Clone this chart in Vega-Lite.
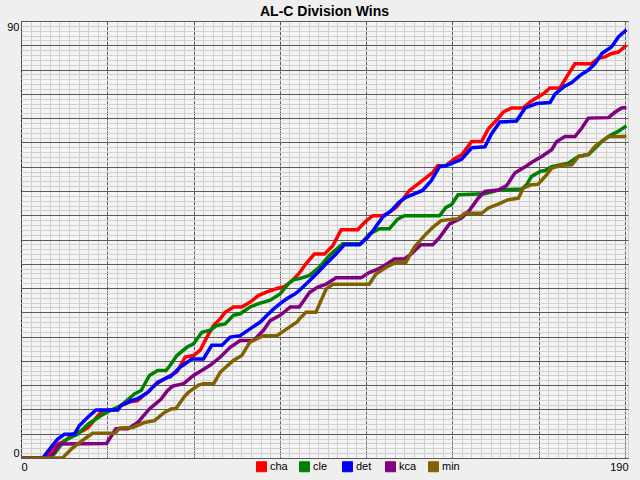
{
  "$schema": "https://vega.github.io/schema/vega-lite/v6.json",
  "autosize": {"type": "none"},
  "width": 607,
  "height": 437,
  "padding": {"left": 21, "top": 21, "right": 12, "bottom": 22},
  "background": "#EFEFEF",
  "title": {"text": "AL-C Division Wins", "fontSize": 14, "fontWeight": "bold", "font": "Liberation Sans", "color": "#000000", "anchor": "middle", "baseline": "alphabetic", "offset": -10},
  "config": {
    "view": {"fill": "#F3F3F3", "stroke": "#000000", "strokeWidth": 1},
    "axis": {"labelFont": "Liberation Sans", "labelFontSize": 11, "labelColor": "#000000", "ticks": false, "domain": false, "labelOverlap": false}
  },
  "data": {"values": [
    {"team":"cha","day":0,"wins":0},{"team":"cha","day":7.5,"wins":0},{"team":"cha","day":10,"wins":2},{"team":"cha","day":12,"wins":3},{"team":"cha","day":14,"wins":3.6},{"team":"cha","day":16,"wins":4.9},{"team":"cha","day":19.3,"wins":5.6},{"team":"cha","day":21,"wins":6.3},{"team":"cha","day":24.5,"wins":9},{"team":"cha","day":25.6,"wins":9.7},{"team":"cha","day":30,"wins":10},{"team":"cha","day":31.3,"wins":10.8},{"team":"cha","day":34.4,"wins":11.6},{"team":"cha","day":36.5,"wins":11.8},{"team":"cha","day":40.2,"wins":13.9},{"team":"cha","day":41.8,"wins":15},{"team":"cha","day":45,"wins":16.3},{"team":"cha","day":46.7,"wins":17},{"team":"cha","day":48.8,"wins":17.7},{"team":"cha","day":51.4,"wins":20.8},{"team":"cha","day":54,"wins":21.1},{"team":"cha","day":56.1,"wins":22.2},{"team":"cha","day":58.2,"wins":24.9},{"team":"cha","day":60.3,"wins":27.3},{"team":"cha","day":62.4,"wins":28.7},{"team":"cha","day":63.9,"wins":30},{"team":"cha","day":66.5,"wins":31.1},{"team":"cha","day":69.1,"wins":31.1},{"team":"cha","day":71.7,"wins":32.1},{"team":"cha","day":74.4,"wins":33.5},{"team":"cha","day":77,"wins":34.2},{"team":"cha","day":80.1,"wins":34.9},{"team":"cha","day":82.2,"wins":35.2},{"team":"cha","day":84.3,"wins":36.2},{"team":"cha","day":86.9,"wins":37.9},{"team":"cha","day":89.2,"wins":40},{"team":"cha","day":91.8,"wins":42},{"team":"cha","day":95,"wins":42},{"team":"cha","day":97.6,"wins":43.7},{"team":"cha","day":100.2,"wins":47},{"team":"cha","day":105.4,"wins":47},{"team":"cha","day":107.5,"wins":48.5},{"team":"cha","day":110.1,"wins":49.9},{"team":"cha","day":113.2,"wins":49.9},{"team":"cha","day":115.3,"wins":50.6},{"team":"cha","day":117.4,"wins":51.6},{"team":"cha","day":119.5,"wins":53.3},{"team":"cha","day":121.6,"wins":55.1},{"team":"cha","day":124.2,"wins":56.4},{"team":"cha","day":126.3,"wins":57.5},{"team":"cha","day":128.9,"wins":58.8},{"team":"cha","day":130.4,"wins":60.2},{"team":"cha","day":133,"wins":60.2},{"team":"cha","day":135.8,"wins":61.7},{"team":"cha","day":137.9,"wins":62.4},{"team":"cha","day":141.1,"wins":65.2},{"team":"cha","day":144.2,"wins":65.2},{"team":"cha","day":146.3,"wins":67.8},{"team":"cha","day":148.9,"wins":69.6},{"team":"cha","day":151,"wins":71.3},{"team":"cha","day":153.6,"wins":72.1},{"team":"cha","day":157.2,"wins":72.1},{"team":"cha","day":159.3,"wins":73.3},{"team":"cha","day":161.4,"wins":74.2},{"team":"cha","day":163.5,"wins":75},{"team":"cha","day":165.6,"wins":76.2},{"team":"cha","day":168.7,"wins":76.2},{"team":"cha","day":170.8,"wins":78.5},{"team":"cha","day":173.4,"wins":81.2},{"team":"cha","day":178.6,"wins":81.2},{"team":"cha","day":180.7,"wins":82.3},{"team":"cha","day":182.8,"wins":82.6},{"team":"cha","day":184.9,"wins":83.3},{"team":"cha","day":187,"wins":83.6},{"team":"cha","day":189.5,"wins":85},

    {"team":"cle","day":0,"wins":0},{"team":"cle","day":8.9,"wins":0},{"team":"cle","day":10.4,"wins":0.8},{"team":"cle","day":13.6,"wins":3.6},{"team":"cle","day":17.7,"wins":4.9},{"team":"cle","day":20.9,"wins":6.9},{"team":"cle","day":25,"wins":8.7},{"team":"cle","day":27.7,"wins":9.7},{"team":"cle","day":31.3,"wins":10.8},{"team":"cle","day":35.5,"wins":13.2},{"team":"cle","day":37.6,"wins":13.9},{"team":"cle","day":40.2,"wins":17},{"team":"cle","day":42.8,"wins":18},{"team":"cle","day":45.4,"wins":18},{"team":"cle","day":46.7,"wins":19.1},{"team":"cle","day":48.8,"wins":21.1},{"team":"cle","day":51.9,"wins":22.8},{"team":"cle","day":54,"wins":23.5},{"team":"cle","day":56.6,"wins":25.9},{"team":"cle","day":59.2,"wins":26.3},{"team":"cle","day":61.3,"wins":27.3},{"team":"cle","day":63.9,"wins":27.6},{"team":"cle","day":66.5,"wins":29.4},{"team":"cle","day":68.6,"wins":29.7},{"team":"cle","day":71.7,"wins":31.1},{"team":"cle","day":74.4,"wins":31.8},{"team":"cle","day":78,"wins":32.5},{"team":"cle","day":81.1,"wins":33.8},{"team":"cle","day":83.7,"wins":35.9},{"team":"cle","day":85.3,"wins":36.7},{"team":"cle","day":87.4,"wins":37},{"team":"cle","day":90.3,"wins":37.6},{"team":"cle","day":93.4,"wins":39.3},{"team":"cle","day":96.5,"wins":41.7},{"team":"cle","day":100.7,"wins":44.1},{"team":"cle","day":106.4,"wins":44.1},{"team":"cle","day":109,"wins":46.1},{"team":"cle","day":112.2,"wins":47.2},{"team":"cle","day":115.3,"wins":47.2},{"team":"cle","day":117.9,"wins":49.2},{"team":"cle","day":120,"wins":49.9},{"team":"cle","day":131,"wins":49.9},{"team":"cle","day":133,"wins":51.6},{"team":"cle","day":134.8,"wins":52.2},{"team":"cle","day":136.8,"wins":54.2},{"team":"cle","day":145.2,"wins":54.4},{"team":"cle","day":149.4,"wins":55.2},{"team":"cle","day":156.7,"wins":55.4},{"team":"cle","day":158.3,"wins":56.3},{"team":"cle","day":159.8,"wins":58},{"team":"cle","day":162.5,"wins":59},{"team":"cle","day":164,"wins":59.2},{"team":"cle","day":166.1,"wins":60},{"team":"cle","day":171.3,"wins":60.7},{"team":"cle","day":174.5,"wins":62.1},{"team":"cle","day":177.6,"wins":62.5},{"team":"cle","day":179.7,"wins":63.8},{"team":"cle","day":181.8,"wins":65.2},{"team":"cle","day":184.9,"wins":66.6},{"team":"cle","day":187,"wins":67.3},{"team":"cle","day":189.5,"wins":68.4},

    {"team":"det","day":0,"wins":0},{"team":"det","day":6.8,"wins":0},{"team":"det","day":9.4,"wins":2.2},{"team":"det","day":11.5,"wins":3.9},{"team":"det","day":13.6,"wins":4.9},{"team":"det","day":16.7,"wins":4.9},{"team":"det","day":18.3,"wins":6.7},{"team":"det","day":20.9,"wins":8.4},{"team":"det","day":23.5,"wins":9.9},{"team":"det","day":30.3,"wins":9.9},{"team":"det","day":31.3,"wins":10.8},{"team":"det","day":34.4,"wins":11.8},{"team":"det","day":36.5,"wins":12.2},{"team":"det","day":39.7,"wins":13.5},{"team":"det","day":42.8,"wins":15.6},{"team":"det","day":45.9,"wins":16.6},{"team":"det","day":46.7,"wins":16.7},{"team":"det","day":49.8,"wins":18.7},{"team":"det","day":53.5,"wins":20.4},{"team":"det","day":57.1,"wins":20.4},{"team":"det","day":59.7,"wins":23.2},{"team":"det","day":62.9,"wins":23.2},{"team":"det","day":65.5,"wins":24.9},{"team":"det","day":68.6,"wins":25.2},{"team":"det","day":71.7,"wins":26.6},{"team":"det","day":74.9,"wins":28},{"team":"det","day":77,"wins":29.4},{"team":"det","day":79.1,"wins":30.7},{"team":"det","day":81.1,"wins":31.8},{"team":"det","day":83.2,"wins":32.8},{"team":"det","day":85.8,"wins":33.8},{"team":"det","day":87.1,"wins":34.5},{"team":"det","day":90.3,"wins":36.5},{"team":"det","day":92.9,"wins":38.2},{"team":"det","day":95.5,"wins":40},{"team":"det","day":98.6,"wins":42},{"team":"det","day":101.2,"wins":43.9},{"team":"det","day":105.9,"wins":43.9},{"team":"det","day":108.5,"wins":45.4},{"team":"det","day":110.6,"wins":47.2},{"team":"det","day":113.2,"wins":49.6},{"team":"det","day":115.8,"wins":50.9},{"team":"det","day":118.4,"wins":52.7},{"team":"det","day":120.5,"wins":53.7},{"team":"det","day":123.1,"wins":54.4},{"team":"det","day":125.7,"wins":55.1},{"team":"det","day":128.4,"wins":57.1},{"team":"det","day":131,"wins":60},{"team":"det","day":133,"wins":60.2},{"team":"det","day":137.9,"wins":61.5},{"team":"det","day":141.1,"wins":63.9},{"team":"det","day":145.2,"wins":64.1},{"team":"det","day":147.3,"wins":66.8},{"team":"det","day":149.9,"wins":69.2},{"team":"det","day":155.1,"wins":69.4},{"team":"det","day":157.8,"wins":72.1},{"team":"det","day":161.4,"wins":73},{"team":"det","day":165.6,"wins":73.2},{"team":"det","day":167.2,"wins":75},{"team":"det","day":169.8,"wins":76.4},{"team":"det","day":172.4,"wins":77.3},{"team":"det","day":175,"wins":78.8},{"team":"det","day":177.6,"wins":79.9},{"team":"det","day":179.7,"wins":81.2},{"team":"det","day":181.8,"wins":83.3},{"team":"det","day":184.9,"wins":84.7},{"team":"det","day":187,"wins":86.7},{"team":"det","day":189.5,"wins":88.2},

    {"team":"kca","day":0,"wins":0},{"team":"kca","day":8.5,"wins":0},{"team":"kca","day":10.4,"wins":1.2},{"team":"kca","day":12,"wins":2.9},{"team":"kca","day":26.8,"wins":3},{"team":"kca","day":29.7,"wins":6},{"team":"kca","day":33.4,"wins":6},{"team":"kca","day":36.5,"wins":7.3},{"team":"kca","day":40.2,"wins":10.1},{"team":"kca","day":43.8,"wins":12.1},{"team":"kca","day":45.9,"wins":13.9},{"team":"kca","day":47.5,"wins":14.8},{"team":"kca","day":50.9,"wins":15.3},{"team":"kca","day":54,"wins":17},{"team":"kca","day":59.2,"wins":19.1},{"team":"kca","day":62.4,"wins":20.8},{"team":"kca","day":65.5,"wins":22.8},{"team":"kca","day":68.6,"wins":24.2},{"team":"kca","day":72.8,"wins":24.2},{"team":"kca","day":75.9,"wins":26.3},{"team":"kca","day":78,"wins":28.3},{"team":"kca","day":81.1,"wins":29.4},{"team":"kca","day":84.3,"wins":31.1},{"team":"kca","day":87.1,"wins":31.1},{"team":"kca","day":90.3,"wins":34.1},{"team":"kca","day":92.9,"wins":35.2},{"team":"kca","day":95.5,"wins":35.8},{"team":"kca","day":98.6,"wins":37.1},{"team":"kca","day":106.4,"wins":37.1},{"team":"kca","day":109,"wins":38.2},{"team":"kca","day":111.7,"wins":38.9},{"team":"kca","day":113.7,"wins":39.6},{"team":"kca","day":116.9,"wins":41},{"team":"kca","day":120,"wins":41},{"team":"kca","day":122.1,"wins":42},{"team":"kca","day":125.2,"wins":43.9},{"team":"kca","day":128.9,"wins":43.9},{"team":"kca","day":131,"wins":45.4},{"team":"kca","day":134.1,"wins":48.2},{"team":"kca","day":137.9,"wins":49.4},{"team":"kca","day":140.5,"wins":51.1},{"team":"kca","day":143.1,"wins":53.5},{"team":"kca","day":145.2,"wins":54.9},{"team":"kca","day":149.4,"wins":55.2},{"team":"kca","day":152,"wins":56.1},{"team":"kca","day":154.6,"wins":58.7},{"team":"kca","day":157.8,"wins":60},{"team":"kca","day":160.4,"wins":61.1},{"team":"kca","day":163,"wins":62.1},{"team":"kca","day":166.1,"wins":63.5},{"team":"kca","day":167.7,"wins":65.2},{"team":"kca","day":170.3,"wins":66.2},{"team":"kca","day":173.4,"wins":66.2},{"team":"kca","day":175.5,"wins":67.9},{"team":"kca","day":177.6,"wins":70},{"team":"kca","day":183.9,"wins":70.1},{"team":"kca","day":185.9,"wins":71.2},{"team":"kca","day":188,"wins":72.1},{"team":"kca","day":189.5,"wins":72.2},

    {"team":"min","day":0,"wins":0},{"team":"min","day":13,"wins":0},{"team":"min","day":16,"wins":2},{"team":"min","day":19,"wins":3.5},{"team":"min","day":22.4,"wins":5.1},{"team":"min","day":29.4,"wins":5.1},{"team":"min","day":31,"wins":6.2},{"team":"min","day":35,"wins":6.3},{"team":"min","day":38.6,"wins":7.3},{"team":"min","day":41.8,"wins":7.7},{"team":"min","day":44.9,"wins":9.4},{"team":"min","day":47,"wins":10.1},{"team":"min","day":48.5,"wins":10.2},{"team":"min","day":51.1,"wins":12.6},{"team":"min","day":52.5,"wins":13.6},{"team":"min","day":55.6,"wins":15},{"team":"min","day":57.1,"wins":15.3},{"team":"min","day":60.3,"wins":15.3},{"team":"min","day":62.4,"wins":17.7},{"team":"min","day":66.5,"wins":20.1},{"team":"min","day":69.1,"wins":21.1},{"team":"min","day":71.7,"wins":23.9},{"team":"min","day":75.9,"wins":25.2},{"team":"min","day":80.1,"wins":25.2},{"team":"min","day":83.2,"wins":26.6},{"team":"min","day":86.4,"wins":28},{"team":"min","day":87.1,"wins":28.6},{"team":"min","day":89.2,"wins":30},{"team":"min","day":92.3,"wins":30},{"team":"min","day":95.5,"wins":34.8},{"team":"min","day":97.6,"wins":35.8},{"team":"min","day":109,"wins":35.8},{"team":"min","day":111.1,"wins":37.9},{"team":"min","day":114.3,"wins":39.3},{"team":"min","day":117.4,"wins":40.3},{"team":"min","day":120.5,"wins":40.3},{"team":"min","day":123.1,"wins":43.4},{"team":"min","day":126.3,"wins":45.8},{"team":"min","day":128.9,"wins":47.5},{"team":"min","day":131.5,"wins":48.9},{"team":"min","day":136.8,"wins":49.3},{"team":"min","day":138.9,"wins":50.4},{"team":"min","day":144.2,"wins":50.4},{"team":"min","day":146.3,"wins":51.5},{"team":"min","day":149.4,"wins":52.3},{"team":"min","day":152.5,"wins":53.2},{"team":"min","day":155.7,"wins":53.5},{"team":"min","day":157.2,"wins":55.6},{"team":"min","day":159.8,"wins":56.3},{"team":"min","day":161.9,"wins":56.4},{"team":"min","day":164.5,"wins":58.3},{"team":"min","day":166.1,"wins":59.7},{"team":"min","day":169.2,"wins":60.3},{"team":"min","day":172.4,"wins":60.4},{"team":"min","day":174.5,"wins":62.1},{"team":"min","day":177.6,"wins":62.5},{"team":"min","day":179.7,"wins":64.2},{"team":"min","day":181.8,"wins":65.2},{"team":"min","day":183.9,"wins":66.2},{"team":"min","day":189.5,"wins":66.2}
  ]},
  "mark": {"type": "line", "strokeWidth": 3.5, "strokeJoin": "miter", "clip": true},
  "encoding": {
    "x": {
      "field": "day", "type": "quantitative",
      "scale": {"domain": [0, 190], "nice": false, "zero": false},
      "axis": {
        "title": null,
        "values": [0,3,6,9,12,15,18,21,24,27,30,33,36,39,42,45,48,51,54,57,60,63,66,69,72,75,78,81,84,87,90,93,96,99,102,105,108,111,114,117,120,123,126,129,132,135,138,141,144,147,150,153,156,159,162,165,168,171,174,177,180,183,186,189,190],
        "labelExpr": "datum.value == 0 || datum.value == 190 ? datum.label : ''",
        "labelFlush": true,
        "labelPadding": 3,
        "grid": true,
        "gridColor": {"condition": {"test": "datum.value % 27 == 0", "value": "#5A5A5A"}, "value": "#D0D0D0"},
        "gridDash": {"condition": {"test": "datum.value % 27 == 0", "value": [4, 1]}, "value": []},
        "gridWidth": 1,
        "gridOpacity": 1
      }
    },
    "y": {
      "field": "wins", "type": "quantitative",
      "scale": {"domain": [0, 90], "nice": false},
      "axis": {
        "title": null,
        "values": [0,1,2,3,4,5,6,7,8,9,10,11,12,13,14,15,16,17,18,19,20,21,22,23,24,25,26,27,28,29,30,31,32,33,34,35,36,37,38,39,40,41,42,43,44,45,46,47,48,49,50,51,52,53,54,55,56,57,58,59,60,61,62,63,64,65,66,67,68,69,70,71,72,73,74,75,76,77,78,79,80,81,82,83,84,85,86,87,88,89,90],
        "labelExpr": "datum.value == 0 || datum.value == 90 ? datum.label : ''",
        "labelFlush": true,
        "labelPadding": 2,
        "grid": true,
        "gridColor": {"condition": {"test": "datum.value % 5 == 0", "value": "#5A5A5A"}, "value": "#D0D0D0"},
        "gridWidth": 1,
        "gridOpacity": 1
      }
    },
    "color": {
      "field": "team", "type": "nominal",
      "scale": {"domain": ["cha", "cle", "det", "kca", "min"], "range": ["#FF0000", "#008000", "#0000FF", "#800080", "#806000"]},
      "legend": {
        "title": null,
        "orient": "none",
        "legendX": 235,
        "legendY": 440,
        "direction": "horizontal",
        "symbolType": "square",
        "symbolSize": 100,
        "symbolStrokeWidth": 1,
        "labelFont": "Liberation Sans",
        "labelFontSize": 11,
        "labelColor": "#000000",
        "labelOffset": 3,
        "columnPadding": 9,
        "gridAlign": "all",
        "padding": 0,
        "encode": {
          "symbols": {"update": {"fill": {"scale": "color", "field": "value"}, "stroke": {"value": "#000000"}, "strokeWidth": {"value": 1}, "opacity": {"value": 1}, "fillOpacity": {"value": 1}}}
        }
      }
    }
  }
}
